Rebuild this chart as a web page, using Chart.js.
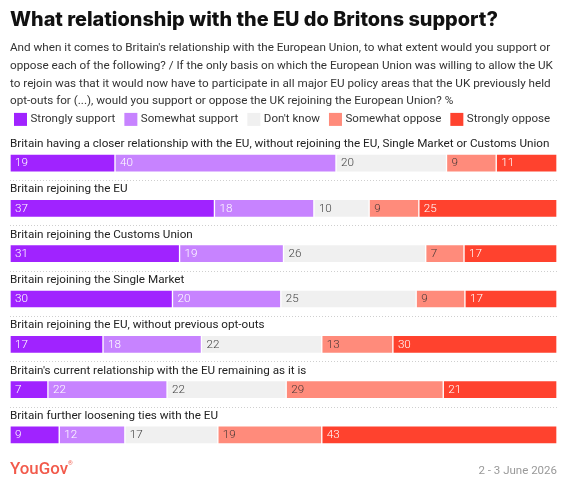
<!DOCTYPE html>
<html><head><meta charset="utf-8">
<script src="https://cdn.jsdelivr.net/npm/chart.js@4"></script>
<style>html,body{margin:0;padding:0;background:#fff}#wrap{width:567px;height:489px;position:relative}</style>
</head><body><div id="wrap"><canvas id="c"></canvas></div>
<script>
// ---------- data ----------
const categories = [
  "Britain having a closer relationship with the EU, without rejoining the EU, Single Market or Customs Union",
  "Britain rejoining the EU",
  "Britain rejoining the Customs Union",
  "Britain rejoining the Single Market",
  "Britain rejoining the EU, without previous opt-outs",
  "Britain's current relationship with the EU remaining as it is",
  "Britain further loosening ties with the EU"
];
const seriesNames = ["Strongly support", "Somewhat support", "Don't know", "Somewhat oppose", "Strongly oppose"];
const stronglySupport = [19, 37, 31, 30, 17, 7, 9];
const somewhatSupport = [40, 18, 19, 20, 18, 22, 12];
const dontKnow        = [20, 10, 26, 25, 22, 22, 17];
const somewhatOppose  = [9, 9, 7, 9, 13, 29, 19];
const stronglyOppose  = [11, 25, 17, 17, 30, 21, 43];
const titleText = "What relationship with the EU do Britons support?";
const subtitleLines = [
  "And when it comes to Britain's relationship with the European Union, to what extent would you support or",
  "oppose each of the following? / If the only basis on which the European Union was willing to allow the UK",
  "to rejoin was that it would now have to participate in all major EU policy areas that the UK previously held",
  "opt-outs for (...), would you support or oppose the UK rejoining the European Union? %"
];
const sourceText = "YouGov";
const dateText = "2 - 3 June 2026";

// ---------- styles ----------
const seriesColors = ["#a023ff", "#c783ff", "#f0f0f0", "#ff8b7b", "#ff422e"];
const valueColors = ["#ffffff", "#ffffff", "#444444", "#4a3a38", "#ffffff"];
const BODY = "Roboto, 'Liberation Sans', sans-serif";
const HEAD = "Inter, 'DejaVu Sans', sans-serif";

function fitSize(text, weight, family, target) {
  const c = document.createElement('canvas').getContext('2d');
  c.font = weight + " 100px " + family;
  return 100 * target / c.measureText(text).width;
}
const titleSize = fitSize(titleText, 800, HEAD, 488);
const subSize = fitSize(subtitleLines[0], 400, BODY, 541);
const catSize = fitSize(categories[0], 400, BODY, 540);
const legSize = fitSize(seriesNames[0], 400, BODY, 85);
const logoSize = fitSize(sourceText, 500, BODY, 58);

const allSeries = [stronglySupport, somewhatSupport, dontKnow, somewhatOppose, stronglyOppose];
const rowTotals = categories.map((_, i) => allSeries.reduce((s, a) => s + a[i], 0));

const datasets = allSeries.map((arr, k) => ({
  label: seriesNames[k],
  data: arr.map((v, i) => v / rowTotals[i] * 100),
  rawValues: arr,
  backgroundColor: seriesColors[k],
  borderColor: 'rgba(255,255,255,0.35)',
  borderWidth: 1,
  borderSkipped: false,
  barThickness: 18
}));

const decor = {
  id: 'decor',
  beforeDatasetsDraw(chart) {
    const ctx = chart.ctx, ys = chart.scales.y, area = chart.chartArea;
    ctx.save();
    // separators
    ctx.strokeStyle = '#cfcfcf';
    ctx.lineWidth = 1;
    ctx.setLineDash([1, 2]);
    for (let i = 0; i < categories.length - 1; i++) {
      const y = Math.round(ys.getPixelForValue(i) + 17) + 0.5;
      ctx.beginPath(); ctx.moveTo(area.left, y); ctx.lineTo(area.right, y); ctx.stroke();
    }
    ctx.setLineDash([]);
    // category labels
    ctx.fillStyle = '#222';
    ctx.font = "400 " + catSize + "px " + BODY;
    ctx.textBaseline = 'middle';
    ctx.textAlign = 'left';
    categories.forEach((c, i) => ctx.fillText(c, area.left, ys.getPixelForValue(i) - 19));
    // legend
    const ly = area.top - 21;
    let x = 14;
    ctx.font = "400 " + legSize + "px " + BODY;
    seriesNames.forEach((n, k) => {
      ctx.fillStyle = seriesColors[k];
      ctx.fillRect(x, ly - 6.5, 13, 13);
      ctx.fillStyle = '#333';
      ctx.fillText(n, x + 16.5, ly);
      x += 16.5 + ctx.measureText(n).width + 9;
    });
    ctx.restore();
  },
  afterDatasetsDraw(chart) {
    const ctx = chart.ctx;
    ctx.save();
    ctx.font = "300 " + catSize + "px " + BODY;
    ctx.textBaseline = 'middle';
    ctx.textAlign = 'left';
    chart.data.datasets.forEach((ds, k) => {
      const meta = chart.getDatasetMeta(k);
      meta.data.forEach((el, i) => {
        ctx.fillStyle = valueColors[k];
        ctx.fillText(String(ds.rawValues[i]), Math.min(el.base, el.x) + 5, el.y + 0.5);
      });
    });
    // footer
    ctx.font = "500 " + logoSize + "px " + BODY;
    ctx.fillStyle = '#f25a4b';
    ctx.textBaseline = 'middle';
    ctx.fillText(sourceText, 10, 470);
    const lw = ctx.measureText(sourceText).width;
    ctx.font = "400 6px " + BODY;
    ctx.fillText("\u00AE", 10 + lw, 463);
    ctx.font = "400 11.5px " + BODY;
    ctx.fillStyle = '#999';
    ctx.textAlign = 'right';
    ctx.fillText(dateText, chart.chartArea.right, 471);
    ctx.restore();
  }
};

new Chart(document.getElementById('c'), {
  type: 'bar',
  data: { labels: categories, datasets },
  options: {
    indexAxis: 'y',
    responsive: true,
    maintainAspectRatio: false,
    animation: false,
    layout: { padding: { left: 10, right: 10, top: 0, bottom: 31.4 } },
    scales: {
      x: { stacked: true, min: 0, max: 100, display: false },
      y: { stacked: true, display: false }
    },
    plugins: {
      legend: { display: false },
      tooltip: { enabled: false },
      title: {
        display: true, text: titleText, align: 'start', color: '#111',
        font: { family: HEAD, size: titleSize, weight: 800, lineHeight: 24 / titleSize },
        padding: { top: 8, bottom: 7.4 }
      },
      subtitle: {
        display: true, text: subtitleLines, align: 'start', color: '#333',
        font: { family: BODY, size: subSize, weight: 400, lineHeight: 17.75 / subSize },
        padding: { top: 0, bottom: 30 }
      }
    }
  },
  plugins: [decor]
});
</script>
</body></html>
